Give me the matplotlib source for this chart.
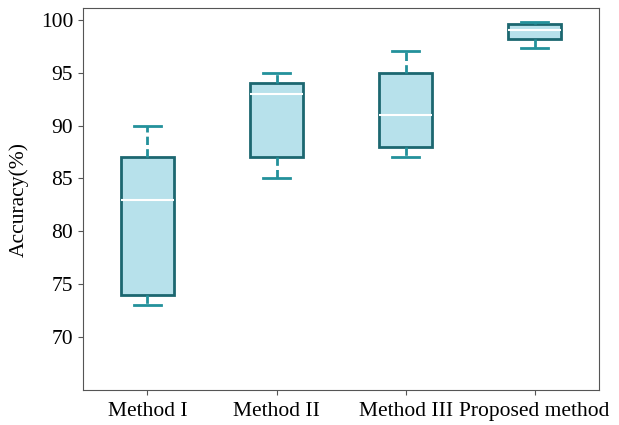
import matplotlib.pyplot as plt

methods = ['Method I', 'Method II', 'Method III', 'Proposed method']
whislo = [73.0, 85.0, 87.0, 97.3]
q1 = [74.0, 87.0, 88.0, 98.2]
med = [83.0, 93.0, 91.0, 99.05]
q3 = [87.0, 94.0, 95.0, 99.55]
whishi = [90.0, 95.0, 97.0, 99.8]

stats = [dict(label=m, whislo=a, q1=b, med=c, q3=d, whishi=e)
         for m, a, b, c, d, e in zip(methods, whislo, q1, med, q3, whishi)]

plt.rcParams['font.family'] = ['Liberation Serif', 'DejaVu Serif']

fig = plt.figure(figsize=(6.19, 4.25), dpi=100)
ax = fig.add_axes([0.134, 0.082, 0.834, 0.899])

edge = '#1c6770'
light = '#23919b'
ax.bxp(stats, positions=range(1, 5), widths=0.41, showfliers=False,
       patch_artist=True,
       boxprops=dict(facecolor='#b7e1eb', edgecolor=edge, linewidth=2),
       medianprops=dict(color='white', linewidth=1.5),
       whiskerprops=dict(color=light, linewidth=2, linestyle=(0, (3, 1.5))),
       capprops=dict(color=light, linewidth=2))

ax.set_xlim(0.5, 4.5)
ax.set_ylim(65, 101.1)
ax.set_yticks([70, 75, 80, 85, 90, 95, 100])
ax.set_ylabel('Accuracy(%)', fontsize=15.5, labelpad=9)
ax.tick_params(labelsize=15.5, color='#555555')
ax.tick_params(axis='x', pad=5)
for s in ax.spines.values():
    s.set_color('#555555')

fig.savefig('out.png')
